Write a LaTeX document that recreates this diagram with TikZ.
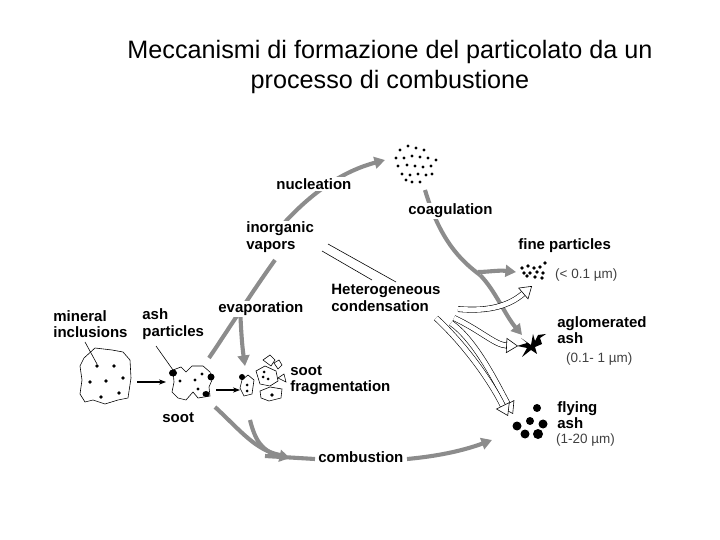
\documentclass[tikz,border=0pt]{standalone}
\usepackage{fontspec}
\setmainfont{Liberation Sans}
\usetikzlibrary{arrows.meta}
\begin{document}
\begin{tikzpicture}[x=0.03cm,y=-0.03cm,
 lab/.style={font=\fontsize{12.8}{14}\selectfont\bfseries,align=left,anchor=west,inner sep=1pt,fill=white},
 sz/.style={font=\fontsize{11.5}{13}\selectfont,text=black!75,anchor=west,inner sep=0},
 ga/.style={draw=black!45,line width=3.5pt,-{Triangle[length=9pt,width=10pt]}},
 gl/.style={draw=black!45,line width=3.5pt},
 ba/.style={draw=black,line width=1.3pt,-{Stealth[length=6pt]}},
 ha/.style={draw=black,line width=0.5pt,double=white,double distance=4pt,-{Triangle[open,length=10pt,width=13pt,fill=white]}},
 thin/.style={draw=black,line width=0.5pt}]
\useasboundingbox (0,0) rectangle (720,540);
\node[font=\fontsize{21.5}{26}\selectfont,align=center] (title) at (390,67) {Meccanismi di formazione del particolato da un\\processo di combustione};
% grey process arrows
\draw[gl] (209,358) .. controls (228,330) and (250,295) .. (275,260);
\draw[ga] (285,222) .. controls (310,195) and (340,172) .. (385,160);
\draw[ga] (240,306) .. controls (241,330) and (242,345) .. (245,366);
\draw[gl] (425,190) .. controls (440,240) and (460,260) .. (480,275);
\draw[ga] (480,275) .. controls (495,290) and (505,315) .. (522,335);
\draw[ga] (478,272) .. controls (488,272) and (498,270) .. (516,272);
\draw[gl] (215,407) .. controls (240,430) and (255,450) .. (280,455);
\draw[ga] (250,420) .. controls (255,440) and (262,452) .. (290,458);
\draw[gl] (265,456) -- (315,459);
\draw[ga] (407,459) .. controls (440,456) and (465,450) .. (492,440);
% labels
\node[lab] (nuc) at (275,184) {nucleation};
\node[lab] (coag) at (407,211) {coagulation};
\node[lab] (inorg) at (245,237) {inorganic\\vapors};
\node[lab] (fine) at (517,246) {fine particles};
\node[lab] (het) at (330,298) {Heterogeneous\\condensation};
\node[lab] (evap) at (217,309) {evaporation};
\node[lab] (miner) at (52,324) {mineral\\inclusions};
\node[lab] (ashp) at (141,324) {ash\\particles};
\node[lab] (aglo) at (556,330) {aglomerated\\ash};
\node[lab] (sfr) at (289,380) {soot\\fragmentation};
\node[lab] (soot) at (161,418) {soot};
\node[lab] (fly) at (556,415) {flying\\ash};
\node[lab] (comb) at (317,457) {combustion};
\node[sz] (s1) at (555,275) {(< 0.1 \textmu m)};
\node[sz] (s2) at (566,359) {(0.1- 1 \textmu m)};
\node[sz] (s3) at (556,440) {(1-20 \textmu m)};
% nucleus cluster
\foreach \a/\b in {400/150,408/146,416/148,424/150,404/158,412/156,420/157,428/158,398/166,407/165,415/166,423/167,431/166,402/174,410/175,418/174,426/175,412/182,420/182,406/180,432/174,396/158,436/160}
  \fill (\a,\b) circle (1.6);
% fine particles
\foreach \a/\b in {522/268,528/266,534/268,540/267,524/273,530/273,537/272,543/273,527/276,535/277,542/278,545/263}
  \fill (\a,\b) circle (1.9);
% aglomerated ash (star)
\fill (531,345) -- (521,338) -- (527,343) -- (517,346) -- (527,348) -- (522,357) -- (531,350) -- (537,354) -- (535,347) -- (542,344) -- (540,338) -- (546,334) -- (538,335) -- (535,341) -- (533,334) -- cycle;
% flying ash
\foreach \a/\b/\r in {517/426/4.5,530/421/4,543/424/4.5,525/434/4.5,538/434/5,537/408/4}
  \fill (\a,\b) circle (\r);
% mineral inclusion
\draw[line width=0.5pt] (84,358) -- (95,348) -- (112,350) -- (123,352) -- (130,360) -- (131,378) -- (128,398) -- (118,400) -- (105,404) -- (93,400) -- (85,402) -- (80,394) -- (82,380) -- (80,366) -- cycle;
\foreach \a/\b in {97/366,114/366,123/378,90/382,106/381,101/397,119/393} \fill (\a,\b) circle (1.8);
\coordinate (mi) at (137,382);
% soot particle
\draw[line width=0.5pt] (173,370) -- (181,367) -- (186,372) -- (192,366) -- (203,366) -- (210,372) -- (212,380) -- (209,387) -- (210,396) -- (198,398) -- (193,392) -- (186,400) -- (178,398) -- (172,392) -- (174,382) -- cycle;
\foreach \a/\b in {180/381,195/380,202/374,198/389} \fill (\a,\b) circle (1.7);
\fill (173,373) ellipse (4 and 3.5);
\fill (211,377) ellipse (3.5 and 3.5);
\fill (206,394) ellipse (3.5 and 3);
% soot fragments
\draw[line width=0.5pt] (242,380) -- (248,375) -- (254,380) -- (252,394) -- (244,396) -- (240,388) -- cycle;
\fill (242,377) circle (3);
\fill (247,385) circle (1.5); \fill (247,391) circle (1.5);
\draw[line width=0.5pt] (256,371) -- (265,366) -- (276,371) -- (278,381) -- (270,386) -- (260,384) -- cycle;
\fill (264,372) circle (1.5); \fill (268,379) circle (1.5); \fill (263,377) circle (1.5);
\draw[line width=0.5pt] (263,360) -- (270,355) -- (275,360) -- (271,366) -- cycle;
\draw[line width=0.5pt] (274,363) -- (279,360) -- (282,365) -- (278,369) -- cycle;
\draw[line width=0.5pt] (260,391) -- (270,387) -- (282,389) -- (281,398) -- (269,401) -- (261,398) -- cycle;
\fill (272,395) circle (1.8);
\draw[line width=0.5pt] (278,378) -- (284,374) -- (286,382) -- cycle;
% thin leader lines
\draw[thin] (85,342) -- (97,364);
\draw[thin] (156,346) -- (173,370);
% black arrows
\draw[ba] (mi) -- (166,382);
\draw[ba] (216,390) -- (240,390);
% heterogeneous thin lines
\draw[thin] (328,244) -- (396,282);
\draw[thin] (322,251) -- (372,280);
% hollow arrows
\draw[ha] (458,309) .. controls (490,312) and (510,305) .. (532,286);
\draw[ha] (454,318) .. controls (480,330) and (495,345) .. (518,346);
\draw[ha] (451,323) .. controls (475,340) and (495,380) .. (513,414);
\draw[ha] (436,318) .. controls (465,345) and (490,380) .. (508,416);
\end{tikzpicture}
\end{document}
